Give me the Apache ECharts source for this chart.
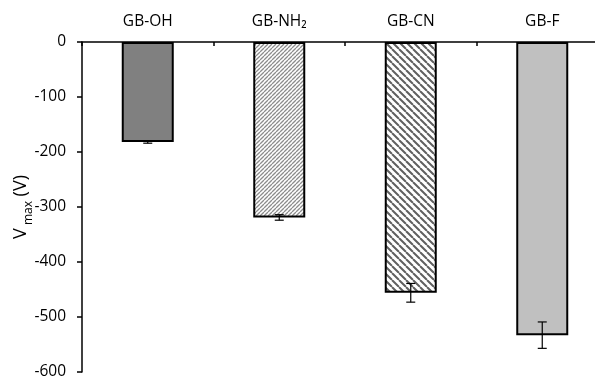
<!DOCTYPE html>
<html>
<head>
<meta charset="utf-8">
<script src="https://cdn.jsdelivr.net/npm/echarts@6/dist/echarts.min.js"></script>
<style>html,body{margin:0;padding:0;background:#fff;}#c{width:595px;height:381px;}</style>
</head>
<body>
<div id="c"></div>
<script>
var categories = ['GB-OH', 'GB-NH\u2082', 'GB-CN', 'GB-F'];
var values = [-182, -319, -456, -533];
var errors = [2, 5, 17, 24];
var yTicks = { min: -600, max: 0, interval: 100 };

function hatch(size, lw, color, dir) {
  var c = document.createElement('canvas');
  c.width = size; c.height = size;
  var g = c.getContext('2d');
  g.fillStyle = '#fff'; g.fillRect(0, 0, size, size);
  g.strokeStyle = color; g.lineWidth = lw;
  g.beginPath();
  for (var k = -1; k <= 1; k++) {
    if (dir === '/') { g.moveTo(k * size, size); g.lineTo(k * size + size, 0); }
    else { g.moveTo(k * size, 0); g.lineTo(k * size + size, size); }
  }
  g.stroke();
  return { image: c, repeat: 'repeat' };
}

var fills = [
  '#808080',
  hatch(4, 1.3, '#8c8c8c', '/'),
  hatch(7, 2, '#606060', '\\'),
  '#c0c0c0'
];

var font = '"Open Sans", sans-serif';
var chart = echarts.init(document.getElementById('c'));
chart.setOption({
  animation: false,
  backgroundColor: '#fff',
  grid: { left: 82, top: 42, width: 526, height: 330, containLabel: false, outerBoundsMode: 'none' },
  xAxis: {
    type: 'category', data: categories, position: 'top',
    axisLine: { onZero: false, lineStyle: { color: '#000', width: 1.5 } },
    axisTick: { show: true, inside: true, length: 4, alignWithLabel: false, lineStyle: { color: '#000', width: 1.5 } },
    axisLabel: { color: '#000', fontSize: 15.5, fontFamily: font, margin: 12 },
    splitLine: { show: false }
  },
  yAxis: {
    type: 'value', min: yTicks.min, max: yTicks.max, interval: yTicks.interval,
    axisLine: { show: true, lineStyle: { color: '#000', width: 1.5 } },
    axisTick: { show: true, length: 5, lineStyle: { color: '#000', width: 1.5 } },
    axisLabel: { color: '#000', fontSize: 15.5, fontFamily: font, margin: 16 },
    splitLine: { show: false },
    name: '{a|V}{b| max}{a| (V)}', nameLocation: 'middle', nameGap: 52, nameMoveOverlap: false,
    nameTextStyle: {
      rich: {
        a: { fontSize: 18, fontFamily: font, color: '#000', verticalAlign: 'bottom', lineHeight: 22 },
        b: { fontSize: 12, fontFamily: font, color: '#000', verticalAlign: 'bottom', lineHeight: 22, padding: [0, 0, -5, 0] }
      }
    }
  },
  series: [
    {
      type: 'bar', barWidth: 52,
      data: values.map(function (v, i) {
        return { value: v, itemStyle: { color: fills[i] } };
      }),
      itemStyle: { borderColor: '#000', borderWidth: 2 }
    },
    {
      type: 'custom', z: 10, clip: false,
      data: values.map(function (v, i) { return [i, v - errors[i], v + errors[i]]; }),
      encode: { x: 0, y: [1, 2] },
      renderItem: function (params, api) {
        var x = api.value(0);
        var lo = api.coord([x, api.value(1)]);
        var hi = api.coord([x, api.value(2)]);
        var w = 4.5;
        var st = { stroke: '#000', lineWidth: 1.2 };
        return {
          type: 'group',
          children: [
            { type: 'line', shape: { x1: lo[0], y1: lo[1], x2: hi[0], y2: hi[1] }, style: st },
            { type: 'line', shape: { x1: lo[0] - w, y1: lo[1], x2: lo[0] + w, y2: lo[1] }, style: st },
            { type: 'line', shape: { x1: hi[0] - w, y1: hi[1], x2: hi[0] + w, y2: hi[1] }, style: st }
          ]
        };
      }
    }
  ]
});
</script>
</body>
</html>
